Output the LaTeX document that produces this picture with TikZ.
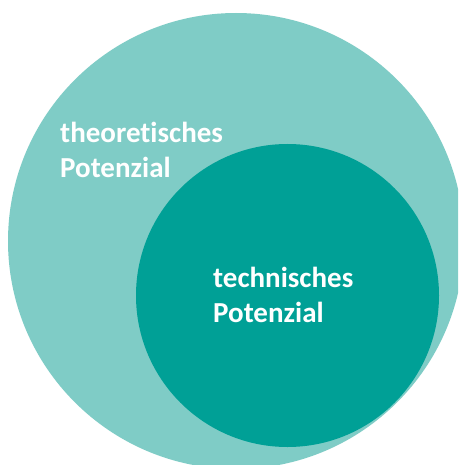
\documentclass[tikz,border=0pt]{standalone}
\usepackage{fontspec}
\setmainfont[Ligatures={NoCommon,NoRare,NoDiscretionary}]{Carlito}
\definecolor{lightteal}{HTML}{7FCCC6}
\definecolor{darkteal}{HTML}{00A096}
\tikzset{
  outercirc/.style={fill=lightteal, draw=none},
  innercirc/.style={fill=darkteal, draw=none},
  lbl/.style={text=white, font=\bfseries\fontsize{29}{35}\selectfont, align=left, inner sep=0pt, anchor=base west}
}
\begin{document}
\begin{tikzpicture}[x=1pt,y=-1pt]
\useasboundingbox (0,0) rectangle (458,465);
\fill[white] (0,0) rectangle (458,465);
\begin{scope}
\clip (0,0) rectangle (458,465);
\path[outercirc] (236,241) circle[radius=228] coordinate (theo);
\path[innercirc] (287.5,295.5) circle[radius=151.5] coordinate (tech);
\end{scope}
\node[lbl] (theolabel) at (60,177) {theoretisches\\Potenzial};
\node[lbl] (techlabel) at (213,322) {technisches\\Potenzial};
\end{tikzpicture}
\end{document}
